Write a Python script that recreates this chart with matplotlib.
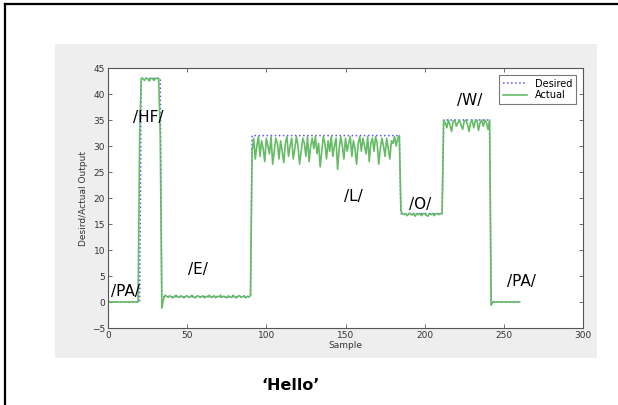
import numpy as np
import matplotlib
matplotlib.use('Agg')
import matplotlib.pyplot as plt
from matplotlib.patches import Rectangle
from matplotlib.lines import Line2D

# Deseado: tramos constantes (inicio de tramo y nivel)
desired_starts = [0, 21, 34, 91, 185, 212, 242]
desired_levels = [0, 43, 1, 32, 17, 35, 0]
last_sample = 260

# Real: valores leidos por tramo
act_pa1 = [0.0] * 20
act_rise1 = [32.0]
act_hf = [43, 43, 42.6, 43, 43, 42.5, 43, 43, 42.6, 43, 43, 43]
act_fall1 = [32.0, -1.2]
act_e = [0.5, 1.3, 1.1, 0.9, 1.2, 1.0, 0.8, 1.1, 1.3, 1.0,
         0.9, 1.2, 1.0, 0.8, 1.1, 1.2, 0.9, 1.0, 1.3, 1.0,
         0.8, 1.1, 1.2, 0.9, 1.0, 1.2, 0.8, 1.1, 1.0, 1.3,
         0.9, 1.0, 1.2, 0.8, 1.1, 1.0, 1.3, 0.9, 1.1, 1.0,
         0.8, 1.2, 1.0, 0.9, 1.3, 1.0, 0.8, 1.1, 1.2, 0.9,
         1.0, 1.2, 0.8, 1.1, 1.0, 1.2]
act_l = [29, 31.5, 27.5, 30, 31.8, 28, 31, 29.5, 27, 31.5,
         30, 28.5, 31.8, 26.5, 29, 31.5, 30.5, 27.5, 31, 29,
         26.8, 30.5, 31.8, 28, 30, 31.5, 27.5, 29.5, 31.8, 30,
         26.5, 29, 31.5, 30.5, 28, 31.8, 27, 30, 31.5, 29.5,
         31.8, 28.5, 30.5, 26, 29, 31.8, 30.5, 27.5, 31, 29,
         31.8, 28, 30, 31.5, 25.5, 29.5, 31.8, 30, 27.5, 31.5,
         29, 30.5, 31.8, 28, 31, 29.5, 26.5, 30.5, 31.8, 29,
         31.5, 30, 28.5, 31.8, 27, 30.5, 31.5, 29, 31.8, 30.5,
         26.5, 29.5, 31.5, 30, 28, 31.5, 29.5, 27.5, 31, 30.5,
         31.8, 30, 31.5, 32]
act_o = [17.5, 17, 16.8, 17, 16.6, 17, 17, 16.7, 17, 16.5,
         17, 16.8, 17, 16.6, 17, 17, 16.7, 16.5, 17, 16.8,
         17, 16.6, 17, 17, 16.8, 17, 17]
act_w = [35, 34.5, 33.5, 35, 34, 32.8, 34.8, 35, 33.8, 34.5,
         35, 34, 33.2, 34.8, 35, 34.2, 32.8, 34.5, 35, 33.5,
         34.8, 35, 33, 34.5, 35, 33.8, 35, 34.5, 33.2, 35]
act_fall2 = [-0.6]
act_pa2 = [0.0] * 18

labels = ['/PA/', '/HF/', '/E/', '/L/', '/O/', '/W/', '/PA/']
label_x = [10.7, 25.3, 57, 154.7, 197, 228.6, 261]
label_y = [2.1, 35.4, 6.2, 20.3, 18.7, 38.8, 4.0]

actual = np.array(act_pa1 + act_rise1 + act_hf + act_fall1 + act_e + act_l
                  + act_o + act_w + act_fall2 + act_pa2, dtype=float)
desired = np.repeat(desired_levels, np.diff(desired_starts + [last_sample + 1]))
samples = np.arange(len(actual))

fig = plt.figure(figsize=(6.18, 4.05), dpi=100)
fig.patch.set_facecolor('white')

# fondo gris de la ventana de MATLAB
fig.patches.append(Rectangle((55 / 618, 1 - 358 / 405), 542 / 618, 314 / 405,
                             transform=fig.transFigure, facecolor='#eeeeee',
                             edgecolor='none', zorder=-10))
# marco de la diapositiva
fig.lines.append(Line2D([5 / 618, 1], [1 - 4 / 405, 1 - 4 / 405], transform=fig.transFigure,
                        color='black', lw=1.6))
fig.lines.append(Line2D([5 / 618, 5 / 618], [0, 1 - 4 / 405], transform=fig.transFigure,
                        color='black', lw=1.6))

ax = fig.add_axes([108 / 618, 1 - 328 / 405, 475 / 618, 260 / 405])
ax.plot(samples, desired, ':', color='#5555ff', lw=1.1, label='Desired')
ax.plot(samples, actual, '-', color='#66bb66', lw=1.2, label='Actual')

ax.set_xlim(0, 300)
ax.set_ylim(-5, 45)
ax.set_xticks(range(0, 301, 50))
ax.set_yticks(range(-5, 46, 5))
ax.tick_params(direction='in', top=True, right=True, length=3, width=0.6,
               labelsize=6.5, labelcolor='#333333', color='#555555', pad=2)
for s in ax.spines.values():
    s.set_color('#555555')
    s.set_linewidth(0.8)
ax.set_xlabel('Sample', fontsize=6.5, color='#333333', labelpad=1)
ax.set_ylabel('Desird/Actual Output', fontsize=6.5, color='#333333', labelpad=3)

leg = ax.legend(loc='upper right', fontsize=7, frameon=True, fancybox=False,
                edgecolor='#555555', handlelength=2.5, borderpad=0.4,
                labelspacing=0.15, borderaxespad=0.7)
leg.get_frame().set_linewidth(0.8)

for t, x, y in zip(labels, label_x, label_y):
    ax.text(x, y, t, fontsize=11, ha='center', va='center', color='black')

fig.text(291 / 618, 1 - 385 / 405, '\u2018Hello\u2019', fontsize=11.5, fontweight='bold',
         ha='center', va='center')

fig.savefig('out.png', dpi=100)
